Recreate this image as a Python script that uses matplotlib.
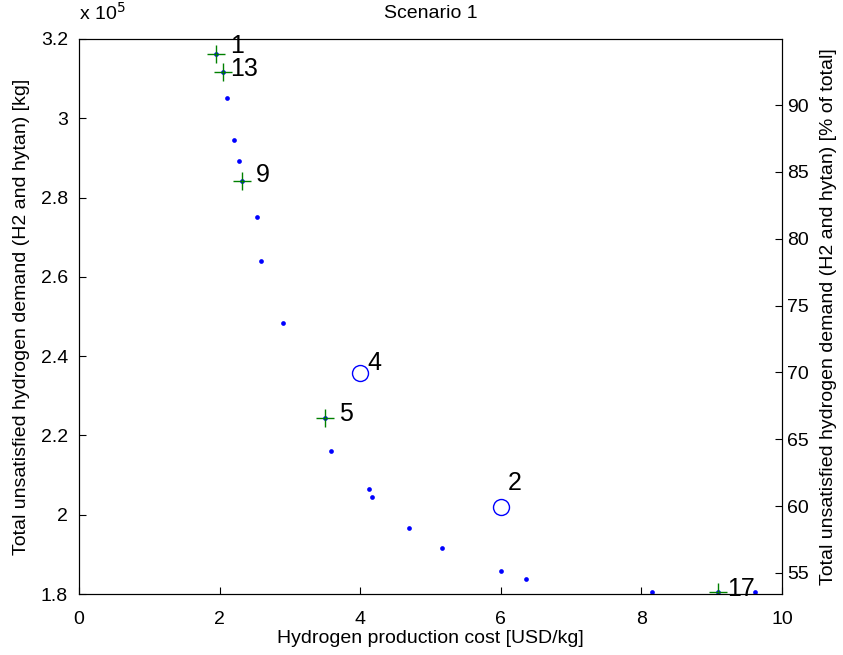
#!/usr/bin/env python3
import numpy as np
import matplotlib
matplotlib.use("Agg")
import matplotlib.pyplot as plt
from matplotlib.ticker import FuncFormatter


# all evaluated solutions (hydrogen cost USD/kg, unsatisfied demand kg)
COST = [1.95, 2.05, 2.11, 2.20, 2.28, 2.32, 2.53, 2.59, 2.90, 3.50, 3.59,
        4.13, 4.17, 4.69, 5.16, 6.00, 6.36, 8.15, 9.09, 9.62]
DEMAND = [3.162e5, 3.117e5, 3.051e5, 2.945e5, 2.892e5, 2.842e5, 2.751e5,
          2.640e5, 2.484e5, 2.244e5, 2.161e5, 2.065e5, 2.045e5, 1.966e5,
          1.916e5, 1.858e5, 1.838e5, 1.805e5, 1.805e5, 1.805e5]

# selected solutions (green +)
SEL_ID = ["1", "13", "9", "5", "17"]
SEL_COST = [1.95, 2.05, 2.32, 3.50, 9.09]
SEL_DEMAND = [3.162e5, 3.117e5, 2.842e5, 2.244e5, 1.805e5]

# other scenarios (open circles)
OTH_ID = ["4", "2"]
OTH_COST = [4.0, 6.0]
OTH_DEMAND = [2.357e5, 2.019e5]

TOTAL_DEMAND = 3.37e5
PCT_TICKS = [55, 60, 65, 70, 75, 80, 85, 90]


def main():
    plt.rcParams['font.family'] = ['Liberation Sans', 'DejaVu Sans']
    fig = plt.figure(figsize=(8.43, 6.55), dpi=100)
    ax = fig.add_axes([0.0937, 0.0931, 0.8339, 0.8474])

    ax.plot(COST, DEMAND, 'o', color='#0000ff', markersize=3.4, markeredgewidth=0)
    ax.plot(SEL_COST, SEL_DEMAND, '+', color='#008000', markersize=13, markeredgewidth=1.0)
    ax.plot(OTH_COST, OTH_DEMAND, 'o', color='#0000ff', markerfacecolor='none',
            markersize=11.5, markeredgewidth=1.0)

    # label offsets in points (right, up) from the marker
    offsets = {"1": (10, 7.5), "13": (5, 4), "9": (10, 6), "5": (10, 5),
               "17": (6.5, 4), "4": (5, 9), "2": (5, 19)}
    for ids, xs, ys in [(SEL_ID, SEL_COST, SEL_DEMAND), (OTH_ID, OTH_COST, OTH_DEMAND)]:
        for i, x, y in zip(ids, xs, ys):
            ax.annotate(i, (x, y), xytext=offsets[i], textcoords='offset points',
                        fontsize=18, va='center_baseline', ha='left')

    ax.set_xlim(0, 10)
    ax.set_ylim(1.8e5, 3.2e5)
    ax.set_xticks([0, 2, 4, 6, 8, 10])
    ax.set_yticks(np.arange(1.8e5, 3.21e5, 0.2e5))
    ax.yaxis.set_major_formatter(FuncFormatter(lambda v, p: "%g" % round(v / 1e5, 1)))
    ax.tick_params(direction='in', labelsize=14, length=5, width=0.8,
                   top=False, right=False)
    ax.tick_params(axis='x', pad=12)
    ax.tick_params(axis='y', pad=8)
    ax.text(0.0, 1.028, "x 10$^5$", transform=ax.transAxes, fontsize=14,
            ha='left', va='bottom')

    ax.set_xlabel("Hydrogen production cost [USD/kg]", fontsize=14, labelpad=2)
    ax.set_ylabel("Total unsatisfied hydrogen demand (H2 and hytan) [kg]", fontsize=14,
                  labelpad=8)
    ax.set_title("Scenario 1", fontsize=14, pad=15)

    ax2 = ax.twinx()
    lo, hi = ax.get_ylim()
    ax2.set_ylim(lo / TOTAL_DEMAND * 100, hi / TOTAL_DEMAND * 100)
    ax2.set_yticks(PCT_TICKS)
    ax2.tick_params(direction='in', labelsize=14, length=5, width=0.8)
    ax2.set_ylabel("Total unsatisfied hydrogen demand (H2 and hytan) [% of total]",
                   fontsize=14, labelpad=8)

    for a in (ax, ax2):
        for s in a.spines.values():
            s.set_linewidth(0.8)

    fig.savefig("out.png", dpi=100)


if __name__ == '__main__':
    main()
